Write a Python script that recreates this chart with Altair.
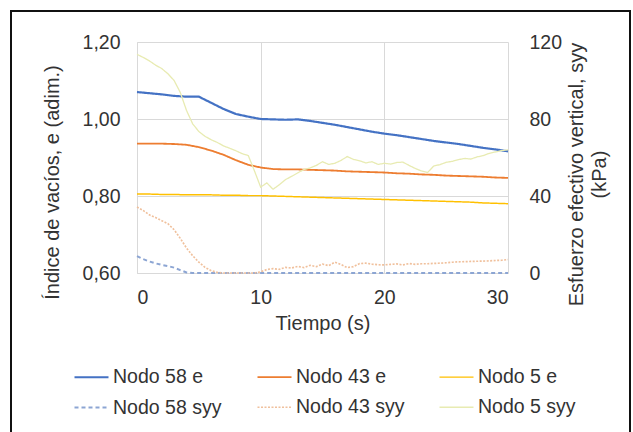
import altair as alt
import pandas as pd

FONT = "Liberation Sans"
TXT = "#333333"
GRID = "#D9D9D9"

# legend is filled column by column (2 rows), so the domain is interleaved
series = ["Nodo 58 e", "Nodo 58 syy", "Nodo 43 e", "Nodo 43 syy", "Nodo 5 e", "Nodo 5 syy"]
colors = ["#4472C4", "#8CA5D3", "#ED7D31", "#F0C09C", "#FFC000", "#E8EBB2"]
dashes = [[1, 0], [4, 3], [1, 0], [2, 1.5], [1, 0], [1, 0]]
widths = [2.2, 1.3, 2.2, 1.2, 2.6, 1.3]

# void ratio, sampled every 1 s
t_e = [0, 1, 2, 3, 4, 5, 6, 7, 8, 9, 10, 11, 12, 13, 14, 15, 16, 17, 18, 19, 20,
       21, 22, 23, 24, 25, 26, 27, 28, 29, 30]
e58 = [1.070, 1.067, 1.064, 1.060, 1.058, 1.058, 1.042, 1.026, 1.013, 1.006, 1.000,
       0.999, 0.998, 0.999, 0.995, 0.990, 0.985, 0.979, 0.973, 0.967, 0.962,
       0.958, 0.953, 0.948, 0.943, 0.939, 0.935, 0.930, 0.925, 0.921, 0.916]
e43 = [0.936, 0.936, 0.936, 0.935, 0.933, 0.927, 0.918, 0.907, 0.893, 0.881, 0.874,
       0.870, 0.869, 0.869, 0.868, 0.867, 0.866, 0.864, 0.863, 0.862, 0.861,
       0.859, 0.858, 0.856, 0.855, 0.853, 0.852, 0.851, 0.850, 0.848, 0.847]
e5 = [0.805, 0.805, 0.804, 0.804, 0.803, 0.803, 0.803, 0.802, 0.802, 0.801, 0.801,
      0.800, 0.799, 0.798, 0.797, 0.796, 0.795, 0.794, 0.793, 0.792, 0.791,
      0.790, 0.789, 0.788, 0.787, 0.786, 0.785, 0.784, 0.782, 0.781, 0.780]

# vertical effective stress (kPa), sampled every 0.5 s
t_s = [0, 0.5, 1, 1.5, 2, 2.5, 3, 3.5, 4, 4.5, 5, 5.5, 6, 6.5, 7, 7.5, 8, 8.5, 9, 9.5,
       10, 10.5, 11, 11.5, 12, 12.5, 13, 13.5, 14, 14.5, 15, 15.5, 16, 16.5, 17, 17.5,
       18, 18.5, 19, 19.5, 20, 20.5, 21, 21.5, 22, 22.5, 23, 23.5, 24, 24.5, 25, 25.5,
       26, 26.5, 27, 27.5, 28, 28.5, 29, 29.5, 30]
s58 = [8.8, 7.2, 6.0, 5.0, 4.2, 3.6, 2.8, 1.5, 0.3, 0, 0, 0, 0, 0, 0, 0, 0, 0, 0, 0,
       0, 0, 0, 0, 0, 0, 0, 0, 0, 0, 0, 0, 0, 0, 0, 0, 0, 0, 0, 0,
       0, 0, 0, 0, 0, 0, 0, 0, 0, 0, 0, 0, 0, 0, 0, 0, 0, 0, 0, 0, 0]
s43 = [34.3, 32.5, 30.2, 28.8, 27.2, 25.6, 22.5, 18.0, 13.0, 9.0, 5.6, 2.9, 1.2, 0.3,
       0, 0, 0, 0, 0, 0, 0.6, 1.8, 2.3, 1.9, 2.9, 2.6, 3.4, 2.8, 4.0, 3.3, 4.6, 3.8,
       5.6, 4.4, 2.8, 3.3, 4.9, 5.1, 4.6, 4.3, 4.2, 4.5, 4.7, 4.2, 4.9, 4.5, 4.8, 4.8,
       5.0, 5.1, 5.3, 5.6, 5.8, 5.9, 6.0, 6.1, 6.2, 6.3, 6.5, 6.6, 7.0]
s5 = [113.6, 112.0, 110.2, 108.0, 106.2, 103.5, 100.0, 93.8, 84.5, 77.5, 73.5, 71.0,
      69.2, 67.8, 66.0, 64.8, 63.5, 62.0, 61.0, 53.0, 44.6, 46.8, 43.5, 45.8, 48.5,
      50.2, 52.0, 53.8, 54.6, 55.9, 57.8, 56.4, 57.0, 58.5, 60.5, 59.0, 58.3, 57.2,
      57.8, 56.4, 57.0, 56.6, 57.4, 57.6, 55.9, 54.3, 53.0, 52.2, 55.6, 56.3, 57.5,
      58.0, 58.9, 59.5, 59.2, 60.3, 61.0, 62.2, 62.9, 63.6, 64.0]

df_e = pd.concat([
    pd.DataFrame({"t": t_e, "v": e58, "serie": "Nodo 58 e"}),
    pd.DataFrame({"t": t_e, "v": e43, "serie": "Nodo 43 e"}),
    pd.DataFrame({"t": t_e, "v": e5, "serie": "Nodo 5 e"}),
])
df_s = pd.concat([
    pd.DataFrame({"t": t_s, "v": s58, "serie": "Nodo 58 syy"}),
    pd.DataFrame({"t": t_s, "v": s43, "serie": "Nodo 43 syy"}),
    pd.DataFrame({"t": t_s, "v": s5, "serie": "Nodo 5 syy"}),
])

legend = alt.Legend(
    title=None, orient="none", legendX=-64, legendY=325, columns=3,
    symbolType="M-1,0H3", symbolSize=289, labelFont=FONT, labelFontSize=19.5,
    labelColor=TXT, labelOffset=20, columnPadding=31, rowPadding=9.5, padding=0,
    symbolFillColor="transparent",
)

color = alt.Color("serie:N", scale=alt.Scale(domain=series, range=colors), legend=legend, sort=series)
dash = alt.StrokeDash("serie:N", scale=alt.Scale(domain=series, range=dashes), legend=legend, sort=series)
width = alt.StrokeWidth("serie:N", scale=alt.Scale(domain=series, range=widths), legend=legend, sort=series)

x_enc = alt.X(
    "t:Q", scale=alt.Scale(domain=[0, 30], nice=False),
    axis=alt.Axis(values=[0, 10, 20, 30], title="Tiempo (s)", labelPadding=15,
                  titleX=185.5, titleY=56, titleBaseline="alphabetic", titleAlign="center",
                  grid=True),
)

lines_e = alt.Chart(df_e).mark_line().encode(
    x=x_enc,
    y=alt.Y("v:Q", scale=alt.Scale(domain=[0.6, 1.2], nice=False),
            axis=alt.Axis(values=[0.6, 0.8, 1.0, 1.2], orient="left",
                          labelExpr="replace(format(datum.value, '.2f'), '.', ',')",
                          labelPadding=17, title="Índice de vacíos, e (adim.)",
                          titleAngle=270, titleX=-85, titleY=140, titleBaseline="middle",
                          titleAlign="center", grid=True)),
    color=color, strokeDash=dash, strokeWidth=width,
    detail="serie:N",
)

lines_s = alt.Chart(df_s).mark_line().encode(
    x=alt.X("t:Q", scale=alt.Scale(domain=[0, 30], nice=False)),
    y=alt.Y("v:Q", scale=alt.Scale(domain=[0, 120], nice=False),
            axis=alt.Axis(values=[0, 40, 80, 120], orient="right", labelPadding=21,
                          title=["Esfuerzo efectivo vertical, syy", "(kPa)"],
                          titleAngle=270, titleX=58, titleY=132, titleBaseline="top",
                          titleAlign="center", titleLineHeight=23, grid=False, domain=False)),
    color=color, strokeDash=dash, strokeWidth=width,
    detail="serie:N",
)

frame = alt.Chart(pd.DataFrame({"a": [0]})).mark_rect(
    filled=False, stroke="#111111", strokeWidth=2
).encode(
    x=alt.value(-126), x2=alt.value(493), y=alt.value(-31), y2=alt.value(400)
)

chart = alt.layer(lines_e, lines_s, frame).resolve_scale(y="independent").properties(
    width=371, height=231,
    padding={"left": 137, "top": 42, "right": 125, "bottom": 159},
    autosize=alt.AutoSizeParams(type="none"),
    background="white",
).configure_view(stroke=None).configure_axis(
    labelFont=FONT, titleFont=FONT, labelFontSize=19.5, titleFontSize=20,
    labelColor=TXT, titleColor=TXT, titleFontWeight="normal",
    gridColor=GRID, domainColor=GRID, ticks=False,
)

chart.save("out.html", embed_options={"renderer": "svg", "actions": False})
